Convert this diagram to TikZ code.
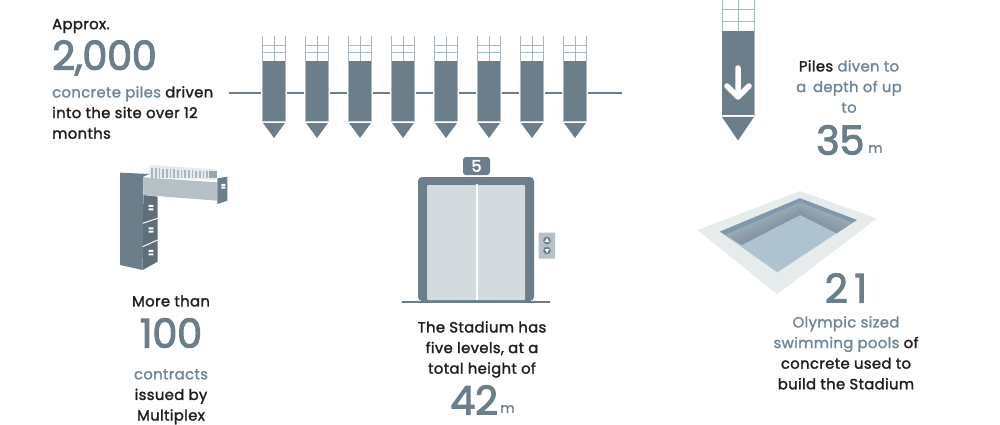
\documentclass[tikz,border=0pt]{standalone}
\usepackage{fontspec}
\setmainfont{Poppins}
\newfontfamily\txtf{Poppins}[FakeBold=1.7,LetterSpace=2.5]
\newfontfamily\bigf{Poppins}[FakeBold=2.5,LetterSpace=-1]
\newfontfamily\unf{Poppins}[FakeBold=0.8]
\definecolor{sl}{HTML}{6B7E8A}
\definecolor{hlc}{HTML}{6F8796}
\definecolor{slt}{HTML}{A9B7BE}
\definecolor{dk}{HTML}{1E1E1E}
\definecolor{door}{HTML}{D3DBDE}
\definecolor{pan}{HTML}{B5C1C6}
\definecolor{rim}{HTML}{E6ECEC}
\definecolor{poolf}{HTML}{AEC3CF}
\definecolor{wallt}{HTML}{A0B0BC}
\definecolor{wallb}{HTML}{8494A2}
\definecolor{band}{HTML}{7F98AB}
\tikzset{
 txt/.style={inner sep=0pt,text=dk,font=\fontsize{14.8}{20.6}\txtf},
 big/.style={inner sep=0pt,text=sl,font=\fontsize{40}{40}\bigf},
 unit/.style={inner sep=0pt,text=sl,font=\fontsize{14}{16}\unf},
 latt/.style={draw=slt,line width=.9pt},
 lnk/.style={draw=sl,line width=2pt}
}
\newcommand{\hl}[1]{\textcolor{hlc}{#1}}
\newcommand{\pile}[1]{%
 \begin{scope}[shift={(#1,0)}]
 \draw[latt] (-11.5,36)--(-11.5,122) (11.5,36)--(11.5,122) (0,36)--(0,61) (-12,45)--(12,45) (-12,52.5)--(12,52.5);
 \fill[sl] (-11,61) rectangle (11,121);
 \draw[draw=door,line width=1pt] (-11.5,121.5)--(11.5,121.5);
 \fill[sl] (-11,123)--(11,123)--(0,138)--cycle;
 \end{scope}}
\begin{document}
\begin{tikzpicture}[x=1pt,y=-1pt]
\useasboundingbox (0,0) rectangle (1000,425);
% top-left text
\node[txt,anchor=west] (t1) at (52,26) {Approx.};
\node[big,anchor=west] (n1) at (52,58) {2,000};
\node[txt,anchor=north west,align=left] (t2) at (52,86) {\hl{concrete piles} driven\\into the site over 12\\months};
% piles
\coordinate (la) at (229,93); \coordinate (lb) at (622,93);
\draw[lnk] (la)--(lb);
\foreach \x in {274,317,360,403,446,489,532,575}{\fill[white] (\x-13,88) rectangle (\x+13,98);\pile{\x}}
% deep pile
\begin{scope}[shift={(738,0)}]
\draw[latt] (-16,0)--(-16,116) (16,0)--(16,116) (0,0)--(0,31) (-16,9)--(16,9) (-16,21)--(16,21);
\fill[sl] (-16,31) rectangle (16,115.5);
\fill[sl] (-16,117)--(16,117)--(0,140.5)--cycle;
\draw[white,line width=5.5pt,line cap=round,line join=round] (0,68)--(0,97) (-11,86)--(0,97)--(11,86);
\end{scope}
\node[txt,align=center,anchor=north] (t3) at (849,60) {Piles \hl{diven to}\\\hl{a\, depth of up}\\\hl{to}};
\node[big,anchor=west] (n2) at (816,140) {35};
\node[unit,anchor=west] (u2) at (868,149) {m};
% cabinet
\begin{scope}[shift={(110,150)},x=.3333pt,y=-.3333pt]
\fill[rim] (118,45)--(320,58)--(320,90)--(118,82)--cycle;
\foreach \i in {0,...,16}{\fill[slt] (124+\i*11,54+\i*.65) rectangle (129+\i*11,84);}
\fill[sl!70] (296,62) rectangle (320,85);
\fill[sl] (30,68)--(118,72)--(100,80)--(98,360)--(30,345)--cycle;
\fill[sl!88!black] (100,135)--(143,140)--(143,335)--(98,360)--cycle;
\fill[pan] (100,82)--(322,97)--(322,152)--(100,135)--cycle;
\fill[sl] (322,85)--(352,80)--(352,152)--(322,162)--cycle;
\draw[white,line width=1pt] (98,220)--(143,205) (98,290)--(143,270);
\fill[white] (334,102) rectangle (346,108) (334,110) rectangle (346,116);
\foreach \y in {165,232,300}{\fill[white] (116,\y) rectangle (130,\y+6) (116,\y+10) rectangle (130,\y+16);}
\end{scope}
\node[txt] (t4) at (171,301) {More than};
\node[big] (n3) at (171,333) {100};
\node[txt,align=center,anchor=north] (t5) at (171,369) {\hl{contracts}\\issued by\\Multiplex};
% elevator
\fill[sl,rounded corners=3pt] (463,157) rectangle (490,175);
\node[inner sep=0pt,text=white,font=\fontsize{16}{16}\bigf] (five) at (476.5,166) {5};
\fill[sl,rounded corners=4pt] (418,301)--(418,177)--(534,177)--(534,301)--cycle;
\fill[door,rounded corners=1pt] (427,300)--(427,185)--(525,185)--(525,300)--cycle;
\fill[white] (475.5,184) rectangle (477.5,300);
\draw[draw=sl,line width=2.4pt] (402,302)--(550,302);
\fill[pan,rounded corners=1pt] (538.5,232.5) rectangle (555,258.5);
\fill[sl] (547,240.5) circle (3.8) (547,250.5) circle (3.8);
\fill[white] (547,238)--(549.3,242)--(544.7,242)--cycle (547,253)--(549.3,249)--(544.7,249)--cycle;
\node[txt,align=center,anchor=north] (t6) at (482,321) {The Stadium has\\five levels, at a\\total height of};
\node[big,anchor=west] (n4) at (450,400) {42};
\node[unit,anchor=west] (u4) at (500,409) {m};
% pool
\begin{scope}[shift={(690,185)},x=.3333pt,y=-.3333pt]
\fill[rim] (22,135)--(330,18)--(560,100)--(262,328)--cycle;
\fill[poolf] (90,140)--(330,40)--(500,105)--(262,262)--cycle;
\foreach \k in {0,...,14}{
 \pgfmathsetmacro{\a}{\k/15}\pgfmathsetmacro{\b}{(\k+1.3)/15}\pgfmathsetmacro{\c}{100-\k*100/14}
 \colorlet{wc}{wallt!\c!wallb}
 \fill[wc] ({90+65*\a},{140+40*\a})--({330},{40+50*\a})--({330},{40+50*min(\b,1)})--({90+65*min(\b,1)},{140+40*min(\b,1)})--cycle;
 \fill[wc] ({330},{40+50*\a})--({500-60*\a},{105+40*\a})--({500-60*min(\b,1)},{105+40*min(\b,1)})--({330},{40+50*min(\b,1)})--cycle;
}
\fill[band] (90,140)--(330,40)--(500,105)--(486,112)--(330,52)--(106,149)--cycle;
\end{scope}
\node[big] (n5) at (846,288) {2\,1};
\node[txt,align=center,anchor=north] (t7) at (846,316) {\hl{Olympic sized}\\\hl{swimming pools} of\\concrete used to\\build the Stadium};
\end{tikzpicture}
\end{document}
